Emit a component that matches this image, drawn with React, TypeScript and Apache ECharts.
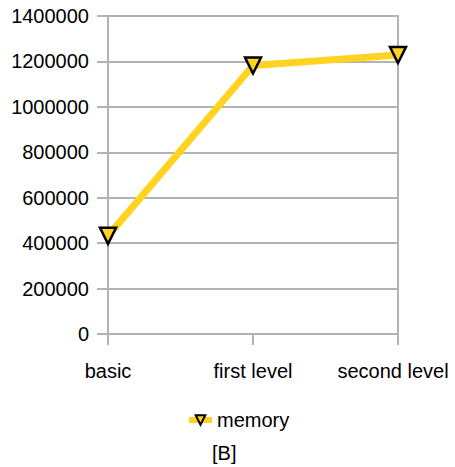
import React, { useEffect, useRef } from "react";
import * as echarts from "echarts";

const categories = ["basic", "first level", "second level"];
const memoryValues = [432000, 1182000, 1228000];
const seriesName = "memory";
const unitLabel = "[B]";

export default function App() {
  const ref = useRef<HTMLDivElement>(null);
  useEffect(() => {
    if (!ref.current) return;
    const chart = echarts.init(ref.current, undefined, { renderer: "svg" });
    const font = "'Liberation Sans', Arial, sans-serif";
    chart.setOption({
      animation: false,
      backgroundColor: "#ffffff",
      grid: {
        left: 108,
        right: 57,
        top: 16,
        bottom: 133,
        show: true,
        borderColor: "#b3b3b3",
        borderWidth: 2,
      },
      xAxis: {
        type: "category",
        data: categories,
        boundaryGap: false,
        axisLine: { lineStyle: { color: "#b3b3b3", width: 2 } },
        axisTick: { show: true, length: 11, lineStyle: { color: "#b3b3b3", width: 2 } },
        axisLabel: {
          color: "#000",
          fontFamily: font,
          fontSize: 20,
          margin: 27,
          interval: 0,
          hideOverlap: false,
          overflow: "none",
          formatter: (v: string, i: number) =>
            i === categories.length - 1 ? `{last|${v}}` : v,
          rich: {
            last: { color: "#000", fontFamily: font, fontSize: 20, padding: [0, 10, 0, 0] },
          },
        },
        splitLine: { show: false },
      },
      yAxis: {
        type: "value",
        min: 0,
        max: 1400000,
        interval: 200000,
        axisLine: { show: true, lineStyle: { color: "#b3b3b3", width: 2 } },
        axisTick: { show: true, length: 11, lineStyle: { color: "#b3b3b3", width: 2 } },
        axisLabel: {
          color: "#000",
          fontFamily: font,
          fontSize: 20,
          margin: 19,
          formatter: (v: number) => String(v),
        },
        splitLine: { show: true, lineStyle: { color: "#b3b3b3", width: 2 } },
      },
      legend: {
        show: true,
        left: 181,
        top: 405,
        itemWidth: 23,
        itemHeight: 12,
        itemGap: 5,
        data: [seriesName],
        lineStyle: { width: 6, color: "#ffd320" },
        itemStyle: { color: "#ffd320", borderColor: "#000", borderWidth: 2 },
        textStyle: { color: "#000", fontFamily: font, fontSize: 20, padding: [14, 0, 0, 0] },
      },
      graphic: [
        {
          type: "text",
          left: 212,
          top: 443,
          style: { text: unitLabel, fill: "#000", font: `20px ${font}` },
        },
      ],
      series: [
        {
          name: seriesName,
          type: "line",
          data: memoryValues,
          symbol: "triangle",
          symbolRotate: 180,
          symbolSize: 16,
          lineStyle: { color: "#ffd320", width: 7 },
          itemStyle: { color: "#ffd320", borderColor: "#000", borderWidth: 2.5 },
        },
      ],
    });
    return () => chart.dispose();
  }, []);
  return (
    <div
      ref={ref}
      style={{ position: "fixed", left: 0, top: 0, width: 455, height: 467 }}
    />
  );
}
